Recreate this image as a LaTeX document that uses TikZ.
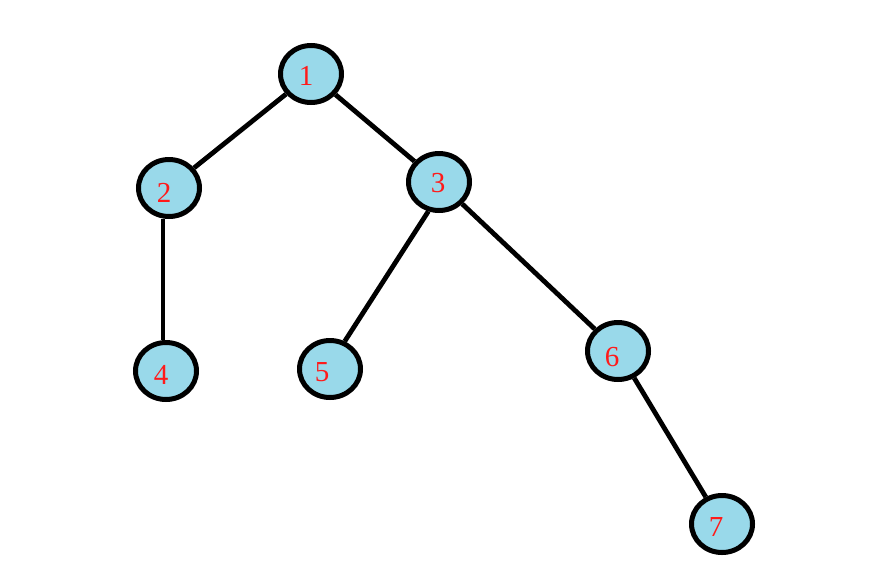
\documentclass[tikz,border=0pt]{standalone}
\usepackage{fontspec}
\setmainfont{Liberation Serif}
\usetikzlibrary{shapes.geometric}
\definecolor{nodeblue}{HTML}{99D9EA}
\definecolor{labelred}{HTML}{FF1A1A}
\tikzset{
  treenode/.style={ellipse, draw=black, line width=5pt, fill=nodeblue,
    minimum width=61pt, minimum height=57pt, inner sep=0pt},
  treelabel/.style={text=labelred, font=\fontsize{29}{29}\selectfont, inner sep=0pt},
  edge/.style={line width=4.8pt, draw=black}
}
\begin{document}
\begin{tikzpicture}[x=1pt,y=-1pt]
\useasboundingbox (0,0) rectangle (869,576);
\node[treenode] (n1) at (311,74) {};
\node[treenode] (n2) at (169,188) {};
\node[treenode] (n3) at (439,182) {};
\node[treenode] (n4) at (166,371) {};
\node[treenode] (n5) at (330,369) {};
\node[treenode] (n6) at (618,351) {};
\node[treenode] (n7) at (722,524) {};
\node[treelabel] (t1) at (306,76) {1};
\node[treelabel] (t2) at (164,193) {2};
\node[treelabel] (t3) at (438,183) {3};
\node[treelabel] (t4) at (161,375) {4};
\node[treelabel] (t5) at (322,372) {5};
\node[treelabel] (t6) at (612,357) {6};
\node[treelabel] (t7) at (716,527) {7};
\draw[edge] (n1) -- (n2);
\draw[edge] (n1) -- (n3);
\draw[edge] ([xshift=-6pt]n2.south) -- ([xshift=-3pt]n4.north);
\draw[edge] (n3.250) -- (n5.62);
\draw[edge] (n3) -- (n6);
\draw[edge] (n6) -- (n7);
\end{tikzpicture}
\end{document}
